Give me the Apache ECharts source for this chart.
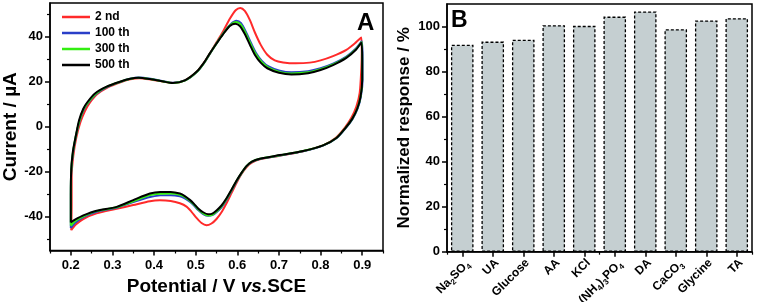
<!DOCTYPE html>
<html>
<head>
<meta charset="utf-8">
<script src="https://cdn.jsdelivr.net/npm/echarts@6/dist/echarts.min.js"></script>
<style>html,body{margin:0;padding:0;background:#fff}#c{width:757px;height:302px}</style>
</head>
<body>
<div id="c"></div>
<script>
// ---- Panel A: cyclic voltammograms [potential V, current µA] ----
var cycleNames = ['2 nd', '100 th', '300 th', '500 th'];
var cycle2 = [[0.201,-46],[0.202,-35],[0.202,-22],[0.206,-13],[0.213,-5],[0.223,2],[0.234,7],[0.245,10.5],[0.263,14.4],[0.290,17.6],[0.321,19.9],[0.343,21.1],[0.365,21.6],[0.392,21],[0.420,20.1],[0.445,19.5],[0.474,20.6],[0.502,24.3],[0.520,28.5],[0.534,32.5],[0.550,37.5],[0.566,42.5],[0.582,48],[0.596,51.8],[0.607,52.8],[0.618,51.5],[0.630,47.5],[0.642,42],[0.656,36.5],[0.672,32],[0.690,29.5],[0.710,28.6],[0.740,28.2],[0.774,28.5],[0.800,29.5],[0.830,31.4],[0.862,34.2],[0.885,37.5],[0.898,39.7],[0.899,33],[0.898,26],[0.894,15],[0.886,9],[0.874,4],[0.858,-0.5],[0.836,-5],[0.806,-8.3],[0.758,-10.9],[0.702,-12.9],[0.654,-14.5],[0.635,-16],[0.622,-18],[0.610,-21],[0.598,-25],[0.586,-29.5],[0.574,-34],[0.562,-38],[0.550,-41],[0.538,-43],[0.526,-43.8],[0.514,-42.8],[0.502,-40.5],[0.490,-37.8],[0.478,-35.5],[0.462,-34],[0.440,-33],[0.414,-32.7],[0.390,-33.1],[0.350,-34.8],[0.310,-36.5],[0.262,-38.5],[0.230,-41],[0.212,-43.5],[0.201,-46]];
var cycle100 = [[0.200,-45],[0.200,-32],[0.201,-20],[0.205,-12],[0.212,-4.5],[0.221,2.5],[0.232,8],[0.243,11],[0.261,14.6],[0.288,17.7],[0.320,20],[0.342,21.3],[0.364,21.9],[0.392,21.3],[0.420,20.3],[0.446,19.6],[0.476,20.7],[0.504,24.5],[0.522,28.8],[0.536,33],[0.552,37.6],[0.568,42],[0.584,45.6],[0.598,47.1],[0.609,46],[0.621,42],[0.633,37.2],[0.645,32.8],[0.659,29.3],[0.675,26.8],[0.702,24.9],[0.730,24.2],[0.770,24.7],[0.800,26],[0.830,28],[0.862,31.2],[0.885,34.8],[0.899,38],[0.901,30],[0.901,21],[0.897,13.5],[0.889,8],[0.877,3.5],[0.861,-0.5],[0.839,-5],[0.806,-8.4],[0.758,-10.9],[0.702,-12.8],[0.654,-14.3],[0.635,-15.6],[0.622,-17.6],[0.610,-20.7],[0.598,-24.3],[0.586,-28.5],[0.574,-32.5],[0.562,-35.8],[0.550,-38],[0.540,-39.3],[0.530,-39.6],[0.518,-38.8],[0.506,-37],[0.496,-35],[0.486,-33.3],[0.474,-31.8],[0.462,-30.9],[0.440,-30.4],[0.415,-30.5],[0.390,-31.2],[0.350,-33.5],[0.310,-36],[0.262,-37.8],[0.230,-40.2],[0.210,-42.8],[0.200,-45]];
var cycle300 = [[0.200,-44],[0.200,-31],[0.201,-19.5],[0.205,-11.5],[0.212,-4.2],[0.221,2.8],[0.231,8],[0.242,11],[0.260,14.7],[0.287,17.8],[0.319,20],[0.341,21.2],[0.363,21.8],[0.391,21.2],[0.420,20.2],[0.446,19.5],[0.475,20.6],[0.503,24.4],[0.521,28.6],[0.535,32.8],[0.551,37.3],[0.567,41.6],[0.583,45.2],[0.597,46.6],[0.608,45.5],[0.620,41.6],[0.632,36.8],[0.644,32.4],[0.658,28.9],[0.674,26.4],[0.701,24.4],[0.730,23.7],[0.770,24.2],[0.800,25.6],[0.830,27.7],[0.862,30.9],[0.885,34.5],[0.899,37.7],[0.900,30],[0.900,20.8],[0.896,13.4],[0.888,8],[0.876,3.5],[0.860,-0.5],[0.838,-5],[0.806,-8.3],[0.758,-10.8],[0.702,-12.7],[0.654,-14.2],[0.635,-15.5],[0.622,-17.5],[0.610,-20.6],[0.598,-24.1],[0.586,-28.2],[0.574,-32.1],[0.562,-35.4],[0.550,-37.7],[0.540,-39.1],[0.530,-39.4],[0.518,-38.5],[0.506,-36.7],[0.496,-34.6],[0.486,-32.9],[0.474,-31.2],[0.462,-30.2],[0.440,-29.7],[0.415,-29.8],[0.390,-30.4],[0.350,-33.1],[0.310,-35.8],[0.262,-37.5],[0.230,-39.8],[0.210,-42],[0.200,-44]];
var cycle500 = [[0.200,-42.5],[0.200,-30],[0.201,-19],[0.205,-11],[0.212,-4],[0.220,3],[0.230,8],[0.240,11],[0.258,14.8],[0.286,17.8],[0.318,20],[0.340,21.2],[0.362,21.8],[0.390,21.2],[0.420,20.2],[0.445,19.4],[0.474,20.6],[0.502,24.4],[0.520,28.5],[0.534,32.6],[0.550,37],[0.566,41.2],[0.582,44.8],[0.595,45.8],[0.606,44.8],[0.618,41.2],[0.630,36.5],[0.642,32],[0.656,28.5],[0.672,26],[0.700,24],[0.730,23.2],[0.770,23.8],[0.800,25.2],[0.830,27.4],[0.862,30.6],[0.885,34.2],[0.898,37.3],[0.900,30],[0.900,20.7],[0.896,13.3],[0.888,8],[0.876,3.5],[0.860,-0.5],[0.838,-5],[0.806,-8.3],[0.758,-10.8],[0.702,-12.6],[0.654,-14.2],[0.635,-15.5],[0.622,-17.5],[0.610,-20.5],[0.598,-24],[0.586,-28],[0.574,-31.8],[0.562,-35],[0.550,-37.2],[0.540,-38.6],[0.530,-38.9],[0.518,-38],[0.506,-36.3],[0.496,-34.3],[0.486,-32.5],[0.474,-30.8],[0.462,-29.7],[0.440,-29.0],[0.415,-29.0],[0.390,-29.7],[0.350,-32.6],[0.310,-35.6],[0.262,-37.3],[0.230,-39.4],[0.210,-41.3],[0.200,-42.5]];
var cycleColors = ['#ff2a2a', '#2a3fc8', '#33ee11', '#000000'];
var xTicksA = [0.2, 0.3, 0.4, 0.5, 0.6, 0.7, 0.8, 0.9];
var xMinorA = [0.15, 0.25, 0.35, 0.45, 0.55, 0.65, 0.75, 0.85, 0.95];
var yTicksA = [-40, -20, 0, 20, 40];
var yMinorA = [-50, -30, -10, 10, 30, 50];

// ---- Panel B: interference test ----
var species = ['Na{s|2}SO{s|4}', 'UA', 'Glucose', 'AA', 'KCl', '(NH{s|4}){s|3}PO{s|4}', 'DA', 'CaCO{s|3}', 'Glycine', 'TA'];
var response = [91.9, 93.3, 94.1, 100.6, 100.3, 104.4, 106.7, 98.8, 102.7, 103.7];
var yTicksB = [0, 20, 40, 60, 80, 100];
var yMinorB = [10, 30, 50, 70, 90];

var chart = echarts.init(document.getElementById('c'), null, {renderer: 'canvas'});
var FONT = '"Liberation Sans", Arial, sans-serif';
var axisLine = {show: true, onZero: false, lineStyle: {color: '#000', width: 1.5}};
var noLine = {show: false, onZero: false};
var tickLab = {color: '#000', fontWeight: 'bold', fontSize: 13, fontFamily: FONT};

var series = [];
var cycles = [cycle2, cycle100, cycle300, cycle500];
for (var k = 0; k < cycles.length; k++) {
  series.push({
    name: cycleNames[k], type: 'line', xAxisIndex: 0, yAxisIndex: 0,
    data: cycles[k], symbol: 'none', smooth: 0.25, animation: false,
    lineStyle: {color: cycleColors[k], width: 2}, itemStyle: {color: cycleColors[k]}
  });
}
series.push({
  type: 'bar', xAxisIndex: 2, yAxisIndex: 2, data: response, barCategoryGap: '26%', animation: false,
  itemStyle: {color: '#c5cfd1', borderColor: '#000', borderWidth: 1.3, borderType: [3, 2]}
});

chart.setOption({
  animation: false,
  textStyle: {fontFamily: FONT},
  grid: [
    {left: 50, top: 3, width: 333, height: 247.5, show: true, borderColor: '#000', borderWidth: 1.5, containLabel: false, outerBoundsMode: 'none'},
    {left: 447, top: 4, width: 305, height: 247.7, show: true, borderColor: '#000', borderWidth: 1.5, containLabel: false, outerBoundsMode: 'none'}
  ],
  legend: {
    data: cycleNames, orient: 'vertical', left: 57, top: 5, icon: 'rect', itemWidth: 28, itemHeight: 2.5, itemGap: 2,
    textStyle: {color: '#000', fontWeight: 'bold', fontSize: 12, fontFamily: FONT, lineHeight: 14}
  },
  xAxis: [
    {gridIndex: 0, type: 'value', min: 0.15, max: 0.95, position: 'bottom',
     axisLine: axisLine, splitLine: {show: false},
     axisTick: {show: true, length: 5, customValues: xTicksA, lineStyle: {color: '#000', width: 1.5}},
     axisLabel: Object.assign({margin: 8, customValues: xTicksA, formatter: function (v) { return v.toFixed(1); }}, tickLab),
     name: 'Potential / V {i|vs.}SCE', nameLocation: 'middle', nameGap: 27,
     nameTextStyle: {color: '#000', fontWeight: 'bold', fontSize: 19, fontFamily: FONT,
       rich: {i: {fontStyle: 'italic', fontWeight: 'bold', fontSize: 19, color: '#000', fontFamily: FONT}}}},
    {gridIndex: 0, type: 'value', min: 0.15, max: 0.95, position: 'bottom', offset: 0,
     axisLine: noLine, splitLine: {show: false}, axisLabel: {show: false},
     axisTick: {show: true, length: 3, customValues: xMinorA, lineStyle: {color: '#000', width: 1.2}}},
    {gridIndex: 1, type: 'category', data: species, position: 'bottom',
     axisLine: axisLine, splitLine: {show: false},
     axisTick: {show: true, alignWithLabel: true, length: 5, lineStyle: {color: '#000', width: 1.5}},
     axisLabel: {rotate: 45, interval: 0, margin: 5, align: 'right', verticalAlign: 'top',
       color: '#000', fontWeight: 'bold', fontSize: 12, fontFamily: FONT,
       rich: {s: {fontSize: 8, fontWeight: 'bold', color: '#000', fontFamily: FONT, padding: [8, 0, 0, 0]}}}},
    {gridIndex: 1, type: 'category', data: species, position: 'bottom', offset: 0,
     axisLine: noLine, splitLine: {show: false}, axisLabel: {show: false},
     axisTick: {show: true, length: 3, lineStyle: {color: '#000', width: 1.2}}}
  ],
  yAxis: [
    {gridIndex: 0, type: 'value', min: -55, max: 55, position: 'left',
     axisLine: axisLine, splitLine: {show: false},
     axisTick: {show: true, length: 5, customValues: yTicksA, lineStyle: {color: '#000', width: 1.5}},
     axisLabel: Object.assign({margin: 7, customValues: yTicksA}, tickLab),
     name: 'Current / µA', nameLocation: 'middle', nameGap: 28,
     nameTextStyle: {color: '#000', fontWeight: 'bold', fontSize: 19, fontFamily: FONT}},
    {gridIndex: 0, type: 'value', min: -55, max: 55, position: 'left', offset: 0,
     axisLine: noLine, splitLine: {show: false}, axisLabel: {show: false},
     axisTick: {show: true, length: 3, customValues: yMinorA, lineStyle: {color: '#000', width: 1.2}}},
    {gridIndex: 1, type: 'value', min: 0, max: 110, position: 'left',
     axisLine: axisLine, splitLine: {show: false},
     axisTick: {show: true, length: 5, customValues: yTicksB, lineStyle: {color: '#000', width: 1.5}},
     axisLabel: Object.assign({margin: 7, customValues: yTicksB}, tickLab),
     name: 'Normalized response / %', nameLocation: 'middle', nameGap: 34,
     nameTextStyle: {color: '#000', fontWeight: 'bold', fontSize: 17, fontFamily: FONT}},
    {gridIndex: 1, type: 'value', min: 0, max: 110, position: 'left', offset: 0,
     axisLine: noLine, splitLine: {show: false}, axisLabel: {show: false},
     axisTick: {show: true, length: 3, customValues: yMinorB, lineStyle: {color: '#000', width: 1.2}}}
  ],
  graphic: [
    {type: 'text', left: 357, top: 11, style: {text: 'A', fontSize: 24, fontWeight: 'bold', fill: '#000', fontFamily: FONT}},
    {type: 'text', left: 451, top: 9, style: {text: 'B', fontSize: 23, fontWeight: 'bold', fill: '#000', fontFamily: FONT}}
  ],
  series: series
});
</script>
</body>
</html>
